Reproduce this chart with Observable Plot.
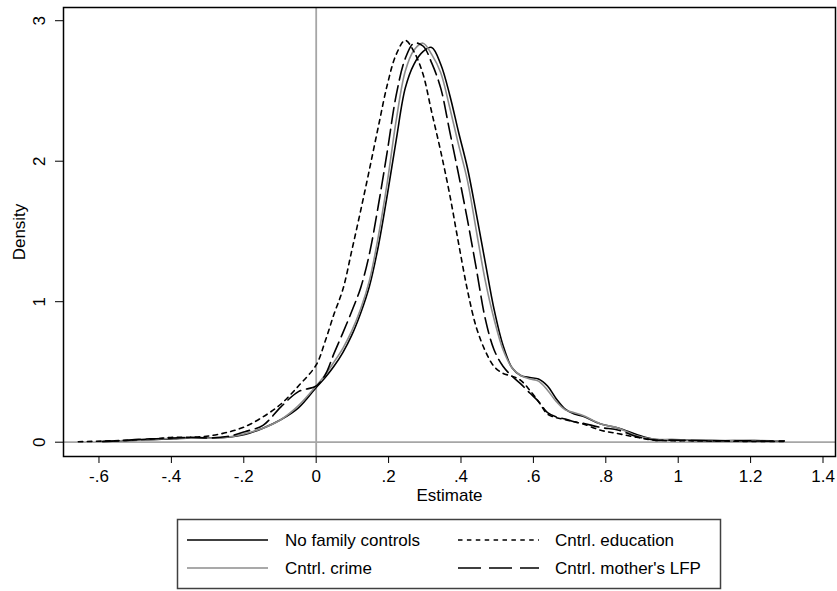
<!DOCTYPE html>
<html><head><meta charset="utf-8">
<script src="https://cdn.jsdelivr.net/npm/d3@7"></script>
<script src="https://cdn.jsdelivr.net/npm/@observablehq/plot@0.6"></script>
<style>
body{margin:0;background:#fff;font-family:"Liberation Sans",Arial,sans-serif;}
#chart{width:837px;height:591px;}
svg{display:block;}
</style></head><body><div id="chart"></div>
<script>
// Kernel density estimates
const estimate = [-0.657, -0.59, -0.541, -0.491, -0.442, -0.393, -0.344, -0.295, -0.246, -0.197, -0.147, -0.098, -0.049, 0,
  0.025, 0.049, 0.074, 0.098, 0.123, 0.147, 0.172, 0.197, 0.221, 0.246, 0.270, 0.295, 0.319, 0.344, 0.369, 0.393, 0.418, 0.442,
  0.467, 0.491, 0.516, 0.541, 0.565, 0.590, 0.614, 0.639, 0.663, 0.688, 0.713,
  0.737, 0.786, 0.836, 0.885, 0.934, 0.983, 1.032, 1.081, 1.130, 1.180, 1.229, 1.293];

const noFamilyControls = [null, 0.005, 0.01, 0.015, 0.02, 0.025, 0.03, 0.03, 0.035, 0.055, 0.10, 0.16, 0.245, 0.39,
  0.46, 0.54, 0.64, 0.76, 0.92, 1.11, 1.40, 1.77, 2.15, 2.52, 2.69, 2.78, 2.81, 2.69, 2.47, 2.21, 1.95, 1.63,
  1.28, 0.95, 0.69, 0.53, 0.475, 0.46, 0.45, 0.40, 0.31, 0.235, 0.20,
  0.185, 0.13, 0.10, 0.055, 0.02, 0.015, 0.015, 0.012, 0.01, 0.012, 0.01, 0.008];

const cntrlCrime = [null, 0.005, 0.01, 0.015, 0.02, 0.03, 0.03, 0.028, 0.035, 0.06, 0.10, 0.16, 0.26, 0.40,
  0.48, 0.57, 0.67, 0.79, 0.95, 1.15, 1.47, 1.86, 2.29, 2.64, 2.79, 2.84, 2.76, 2.63, 2.38, 2.12, 1.86, 1.51,
  1.15, 0.88, 0.66, 0.53, 0.475, 0.45, 0.435, 0.37, 0.29, 0.23, 0.21,
  0.19, 0.13, 0.10, 0.045, 0.02, 0.02, 0.015, 0.015, 0.012, 0.01, 0.012, 0.008];

const cntrlEducation = [0.003, 0.008, 0.012, 0.018, 0.025, 0.035, 0.035, 0.045, 0.07, 0.11, 0.18, 0.27, 0.40, 0.55,
  0.72, 0.91, 1.09, 1.36, 1.65, 1.94, 2.25, 2.55, 2.76, 2.86, 2.78, 2.62, 2.35, 2.07, 1.76, 1.42, 1.08, 0.82,
  0.65, 0.54, 0.49, 0.47, 0.44, 0.37, 0.29, 0.20, 0.175, 0.16, 0.145,
  0.13, 0.085, 0.06, 0.035, 0.015, 0.01, 0.01, 0.008, 0.008, 0.006, 0.006, 0.005];

const cntrlMotherLFP = [null, 0.005, 0.01, 0.02, 0.025, 0.03, 0.035, 0.03, 0.04, 0.075, 0.12, 0.25, 0.36, 0.40,
  0.48, 0.63, 0.78, 0.93, 1.10, 1.34, 1.69, 2.08, 2.47, 2.73, 2.84, 2.82, 2.70, 2.52, 2.21, 1.91, 1.58, 1.24,
  0.88, 0.66, 0.54, 0.47, 0.415, 0.35, 0.29, 0.21, 0.18, 0.165, 0.145,
  0.135, 0.105, 0.085, 0.04, 0.015, 0.015, 0.012, 0.01, 0.01, 0.01, 0.008, 0.008];

const seriesNames = ["No family controls", "Cntrl. crime", "Cntrl. education", "Cntrl. mother's LFP"];
const xTicks = [-0.6, -0.4, -0.2, 0, 0.2, 0.4, 0.6, 0.8, 1, 1.2, 1.4];
const xTickLabels = ["-.6", "-.4", "-.2", "0", ".2", ".4", ".6", ".8", "1", "1.2", "1.4"];
const yTicks = [0, 1, 2, 3];
const yTickLabels = ["0", "1", "2", "3"];

const FONT = "'Liberation Sans', Arial, Helvetica, sans-serif";

const seriesValues = [noFamilyControls, cntrlCrime, cntrlEducation, cntrlMotherLFP];
const seriesStyle = [
  {stroke: "#000000", dash: null, legendDash: null},
  {stroke: "#8c8c8c", dash: null, legendDash: null},
  {stroke: "#000000", dash: "4.5,4.5", legendDash: "4.5,4.4"},
  {stroke: "#000000", dash: "16,6", legendDash: "23,8"}
];

function rows(vals, name) {
  return estimate.map((x, i) => ({x, y: vals[i], s: name})).filter(d => d.y != null);
}

const lineMarks = seriesValues.map((vals, k) =>
  Plot.line(rows(vals, seriesNames[k]), {
    x: "x", y: "y",
    stroke: seriesStyle[k].stroke,
    strokeWidth: 1.6,
    strokeDasharray: seriesStyle[k].dash,
    curve: "catmull-rom"
  })
);

const plot = Plot.plot({
  width: 837,
  height: 510,
  marginLeft: 63,
  marginRight: 2,
  marginTop: 7,
  marginBottom: 54,
  style: {fontFamily: FONT, fontSize: "17px", color: "black", background: "white", overflow: "visible"},
  x: {domain: [-0.698, 1.4345]},
  y: {domain: [-0.1018, 3.094]},
  marks: [
    Plot.ruleX([0], {stroke: "#a6a6a6", strokeWidth: 1.8}),
    Plot.ruleY([0], {stroke: "#a6a6a6", strokeWidth: 1.8}),
    ...lineMarks,
    Plot.frame({stroke: "black", strokeWidth: 1.5}),
    Plot.axisX(xTicks, {
      tickSize: 7, tickPadding: 6,
      tickFormat: d => xTickLabels[xTicks.indexOf(d)],
      label: "Estimate", labelAnchor: "center", labelOffset: 44, labelArrow: "none"
    }),
    Plot.axisY(yTicks, {
      tickSize: 8, tickPadding: 11, tickRotate: -90,
      tickFormat: d => yTickLabels[yTicks.indexOf(d)],
      label: "Density", labelAnchor: "center", labelOffset: 51, labelArrow: "none"
    })
  ]
});
// strip any automatic arrow from axis labels
d3.select(plot).selectAll("text").each(function() {
  const t = this.textContent;
  if (/[→←↑↓]/.test(t)) this.textContent = t.replace(/\s*[→←↑↓]\s*/g, "").trim();
});
document.getElementById("chart").appendChild(plot);

// Legend below the plot
const leg = d3.create("svg")
  .attr("width", 837).attr("height", 81)
  .style("font-family", FONT).style("font-size", "17px");
leg.append("rect")
  .attr("x", 177.5).attr("y", 9.5).attr("width", 543).attr("height", 69)
  .attr("fill", "white").attr("stroke", "#404040").attr("stroke-width", 1.5);
const legendPos = [
  {lx: 187, tx: 285, y: 30},
  {lx: 187, tx: 285, y: 58},
  {lx: 458, tx: 555, y: 30},
  {lx: 458, tx: 555, y: 58}
];
seriesNames.forEach((name, k) => {
  const p = legendPos[k];
  leg.append("line")
    .attr("x1", p.lx).attr("x2", p.lx + 81).attr("y1", p.y).attr("y2", p.y)
    .attr("stroke", seriesStyle[k].stroke).attr("stroke-width", 1.6)
    .attr("stroke-dasharray", seriesStyle[k].legendDash);
  leg.append("text")
    .attr("x", p.tx).attr("y", p.y).attr("dy", "0.35em")
    .attr("fill", "black").text(name);
});
document.getElementById("chart").appendChild(leg.node());
</script>
</body></html>
